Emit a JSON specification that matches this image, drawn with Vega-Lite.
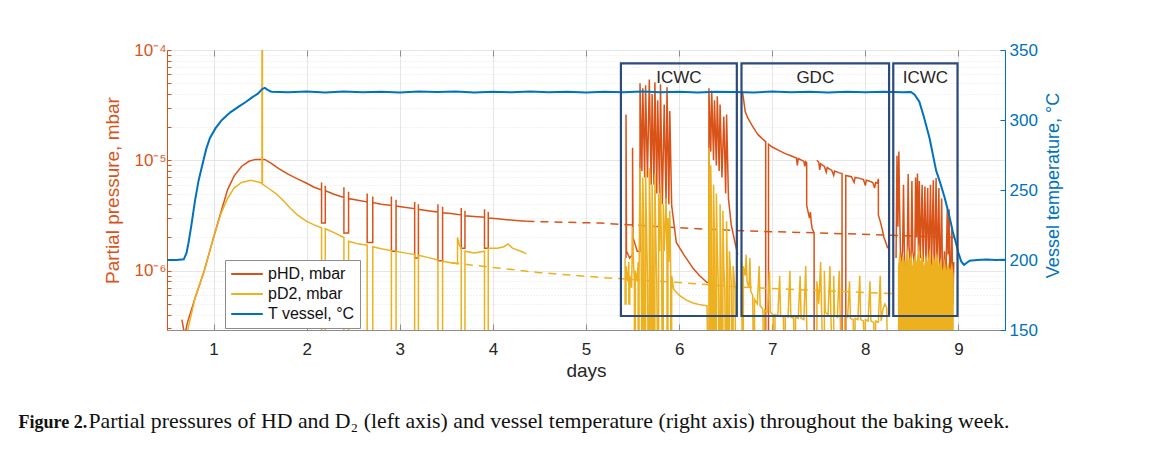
{
  "$schema": "https://vega.github.io/schema/vega-lite/v6.json",
  "width": 838,
  "height": 280,
  "autosize": {"type": "none"},
  "padding": {"left": 167, "top": 50, "right": 148, "bottom": 120},
  "background": "white",
  "config": {
    "font": "Liberation Sans",
    "view": {"stroke": "#8c8c8c", "strokeWidth": 1},
    "axis": {"labelFont": "Liberation Sans", "titleFont": "Liberation Sans", "titleFontWeight": "normal"}
  },
  "datasets": {
    "hd": [
      {"seg": 1, "day": 0.66, "p": 3.6e-7}, {"seg": 1, "day": 0.69, "p": 2.6e-7}, {"seg": 1, "day": 0.72, "p": 3.4e-7},
      {"seg": 1, "day": 0.80, "p": 5.6e-7}, {"seg": 1, "day": 0.90, "p": 1.0e-6}, {"seg": 1, "day": 1.00, "p": 2.0e-6},
      {"seg": 1, "day": 1.08, "p": 3.4e-6}, {"seg": 1, "day": 1.15, "p": 5.4e-6}, {"seg": 1, "day": 1.22, "p": 7.2e-6},
      {"seg": 1, "day": 1.30, "p": 8.8e-6}, {"seg": 1, "day": 1.38, "p": 9.8e-6}, {"seg": 1, "day": 1.45, "p": 1.02e-5},
      {"seg": 1, "day": 1.55, "p": 1.02e-5}, {"seg": 1, "day": 1.62, "p": 9.4e-6}, {"seg": 1, "day": 1.70, "p": 8.4e-6},
      {"seg": 1, "day": 1.80, "p": 7.5e-6}, {"seg": 1, "day": 1.90, "p": 6.8e-6}, {"seg": 1, "day": 2.00, "p": 6.2e-6},
      {"seg": 1, "day": 2.08, "p": 5.7e-6}, {"seg": 1, "day": 2.16, "p": 5.4e-6},
      {"seg": 1, "day": 2.16, "p": 6.3e-6}, {"seg": 1, "day": 2.16, "p": 2.7e-6}, {"seg": 1, "day": 2.20, "p": 2.7e-6}, {"seg": 1, "day": 2.20, "p": 5.9e-6}, {"seg": 1, "day": 2.20, "p": 5.3e-6},
      {"seg": 1, "day": 2.30, "p": 4.9e-6}, {"seg": 1, "day": 2.40, "p": 4.6e-6},
      {"seg": 1, "day": 2.40, "p": 5.7e-6}, {"seg": 1, "day": 2.40, "p": 2.2e-6}, {"seg": 1, "day": 2.45, "p": 2.2e-6}, {"seg": 1, "day": 2.45, "p": 5.2e-6}, {"seg": 1, "day": 2.45, "p": 4.5e-6},
      {"seg": 1, "day": 2.55, "p": 4.35e-6}, {"seg": 1, "day": 2.65, "p": 4.2e-6},
      {"seg": 1, "day": 2.65, "p": 5.0e-6}, {"seg": 1, "day": 2.65, "p": 1.8e-6}, {"seg": 1, "day": 2.71, "p": 1.8e-6}, {"seg": 1, "day": 2.71, "p": 4.7e-6}, {"seg": 1, "day": 2.71, "p": 4.15e-6},
      {"seg": 1, "day": 2.80, "p": 4.0e-6}, {"seg": 1, "day": 2.91, "p": 3.9e-6},
      {"seg": 1, "day": 2.91, "p": 4.7e-6}, {"seg": 1, "day": 2.91, "p": 1.5e-6}, {"seg": 1, "day": 2.96, "p": 1.5e-6}, {"seg": 1, "day": 2.96, "p": 4.4e-6}, {"seg": 1, "day": 2.96, "p": 3.85e-6},
      {"seg": 1, "day": 3.05, "p": 3.75e-6}, {"seg": 1, "day": 3.16, "p": 3.65e-6},
      {"seg": 1, "day": 3.16, "p": 4.2e-6}, {"seg": 1, "day": 3.16, "p": 1.3e-6}, {"seg": 1, "day": 3.20, "p": 1.3e-6}, {"seg": 1, "day": 3.20, "p": 4.0e-6}, {"seg": 1, "day": 3.20, "p": 3.6e-6},
      {"seg": 1, "day": 3.30, "p": 3.5e-6}, {"seg": 1, "day": 3.41, "p": 3.4e-6},
      {"seg": 1, "day": 3.41, "p": 4.0e-6}, {"seg": 1, "day": 3.41, "p": 1.23e-6}, {"seg": 1, "day": 3.46, "p": 1.23e-6}, {"seg": 1, "day": 3.46, "p": 3.8e-6}, {"seg": 1, "day": 3.46, "p": 3.35e-6},
      {"seg": 1, "day": 3.55, "p": 3.3e-6}, {"seg": 1, "day": 3.66, "p": 3.2e-6},
      {"seg": 1, "day": 3.66, "p": 3.7e-6}, {"seg": 1, "day": 3.66, "p": 1.6e-6}, {"seg": 1, "day": 3.70, "p": 1.6e-6}, {"seg": 1, "day": 3.70, "p": 3.5e-6}, {"seg": 1, "day": 3.70, "p": 3.15e-6},
      {"seg": 1, "day": 3.80, "p": 3.1e-6}, {"seg": 1, "day": 3.91, "p": 3.05e-6},
      {"seg": 1, "day": 3.91, "p": 3.6e-6}, {"seg": 1, "day": 3.91, "p": 1.6e-6}, {"seg": 1, "day": 3.95, "p": 1.6e-6}, {"seg": 1, "day": 3.95, "p": 3.4e-6}, {"seg": 1, "day": 3.95, "p": 3.0e-6},
      {"seg": 1, "day": 4.05, "p": 2.95e-6}, {"seg": 1, "day": 4.15, "p": 2.9e-6}, {"seg": 1, "day": 4.25, "p": 2.85e-6}, {"seg": 1, "day": 4.36, "p": 2.8e-6},

      {"seg": 2, "day": 5.43, "p": 1.3e-6}, {"seg": 2, "day": 5.43, "p": 2.6e-5}, {"seg": 2, "day": 5.435, "p": 1.5e-6}, {"seg": 2, "day": 5.47, "p": 1.3e-6},
      {"seg": 2, "day": 5.50, "p": 1.4e-6}, {"seg": 2, "day": 5.50, "p": 1.3e-5}, {"seg": 2, "day": 5.505, "p": 2.0e-6}, {"seg": 2, "day": 5.55, "p": 1.5e-6},
      {"seg": 2, "day": 5.58, "p": 1.5e-6}, {"seg": 2, "day": 5.58, "p": 5.0e-5}, {"seg": 2, "day": 5.60, "p": 8e-6}, {"seg": 2, "day": 5.61, "p": 4.5e-5},
      {"seg": 2, "day": 5.63, "p": 7e-6}, {"seg": 2, "day": 5.64, "p": 4.8e-5}, {"seg": 2, "day": 5.66, "p": 7e-6}, {"seg": 2, "day": 5.68, "p": 5.4e-5},
      {"seg": 2, "day": 5.70, "p": 6e-6}, {"seg": 2, "day": 5.71, "p": 4.0e-5}, {"seg": 2, "day": 5.73, "p": 6e-6}, {"seg": 2, "day": 5.74, "p": 5.1e-5},
      {"seg": 2, "day": 5.76, "p": 5e-6}, {"seg": 2, "day": 5.77, "p": 3.5e-5}, {"seg": 2, "day": 5.79, "p": 5e-6}, {"seg": 2, "day": 5.80, "p": 4.9e-5},
      {"seg": 2, "day": 5.82, "p": 4e-6}, {"seg": 2, "day": 5.84, "p": 3.2e-5}, {"seg": 2, "day": 5.86, "p": 4e-6}, {"seg": 2, "day": 5.87, "p": 4.6e-5},
      {"seg": 2, "day": 5.89, "p": 4e-6}, {"seg": 2, "day": 5.90, "p": 2.8e-5}, {"seg": 2, "day": 5.92, "p": 3.9e-6}, {"seg": 2, "day": 5.97, "p": 1.8e-6},
      {"seg": 2, "day": 6.05, "p": 1.4e-6}, {"seg": 2, "day": 6.15, "p": 1.05e-6}, {"seg": 2, "day": 6.22, "p": 9e-7}, {"seg": 2, "day": 6.30, "p": 7.8e-7},
      {"seg": 2, "day": 6.32, "p": 7.8e-7}, {"seg": 2, "day": 6.32, "p": 4.5e-5}, {"seg": 2, "day": 6.34, "p": 1.2e-5}, {"seg": 2, "day": 6.35, "p": 4.3e-5},
      {"seg": 2, "day": 6.37, "p": 1.0e-5}, {"seg": 2, "day": 6.38, "p": 3.5e-5}, {"seg": 2, "day": 6.40, "p": 9e-6}, {"seg": 2, "day": 6.41, "p": 3.8e-5},
      {"seg": 2, "day": 6.43, "p": 8e-6}, {"seg": 2, "day": 6.44, "p": 3.2e-5}, {"seg": 2, "day": 6.46, "p": 7e-6}, {"seg": 2, "day": 6.48, "p": 2.5e-5},
      {"seg": 2, "day": 6.50, "p": 5e-6}, {"seg": 2, "day": 6.51, "p": 2.6e-5}, {"seg": 2, "day": 6.53, "p": 4.5e-6}, {"seg": 2, "day": 6.56, "p": 2.6e-6},
      {"seg": 2, "day": 6.60, "p": 1.8e-6}, {"seg": 2, "day": 6.63, "p": 1.4e-6},

      {"seg": 3, "day": 6.68, "p": 4.2e-5}, {"seg": 3, "day": 6.70, "p": 3.2e-5}, {"seg": 3, "day": 6.71, "p": 2.75e-5}, {"seg": 3, "day": 6.74, "p": 2.4e-5},
      {"seg": 3, "day": 6.78, "p": 2.1e-5}, {"seg": 3, "day": 6.82, "p": 1.85e-5}, {"seg": 3, "day": 6.85, "p": 1.7e-5}, {"seg": 3, "day": 6.89, "p": 1.58e-5},
      {"seg": 3, "day": 6.93, "p": 1.48e-5}, {"seg": 3, "day": 6.93, "p": 1e-7}, {"seg": 3, "day": 6.96, "p": 1e-7}, {"seg": 3, "day": 6.96, "p": 1.4e-5},
      {"seg": 3, "day": 7.00, "p": 1.32e-5}, {"seg": 3, "day": 7.07, "p": 1.23e-5}, {"seg": 3, "day": 7.14, "p": 1.15e-5}, {"seg": 3, "day": 7.20, "p": 1.1e-5},
      {"seg": 3, "day": 7.26, "p": 1.05e-5}, {"seg": 3, "day": 7.27, "p": 9e-6}, {"seg": 3, "day": 7.28, "p": 1.04e-5}, {"seg": 3, "day": 7.32, "p": 1.0e-5},
      {"seg": 3, "day": 7.34, "p": 9.8e-6}, {"seg": 3, "day": 7.35, "p": 8.8e-6}, {"seg": 3, "day": 7.36, "p": 9.7e-6}, {"seg": 3, "day": 7.37, "p": 9.5e-6},
      {"seg": 3, "day": 7.37, "p": 3.9e-6}, {"seg": 3, "day": 7.40, "p": 3.0e-6}, {"seg": 3, "day": 7.41, "p": 3.4e-6}, {"seg": 3, "day": 7.42, "p": 2.7e-6},
      {"seg": 3, "day": 7.43, "p": 2.4e-6}, {"seg": 3, "day": 7.45, "p": 2.2e-6}, {"seg": 3, "day": 7.45, "p": 1e-7},

      {"seg": 4, "day": 7.48, "p": 1.0e-5}, {"seg": 4, "day": 7.50, "p": 9.6e-6}, {"seg": 4, "day": 7.51, "p": 8.2e-6}, {"seg": 4, "day": 7.52, "p": 9.3e-6},
      {"seg": 4, "day": 7.56, "p": 8.8e-6}, {"seg": 4, "day": 7.58, "p": 7.8e-6}, {"seg": 4, "day": 7.59, "p": 8.6e-6}, {"seg": 4, "day": 7.64, "p": 8.1e-6},
      {"seg": 4, "day": 7.66, "p": 7.3e-6}, {"seg": 4, "day": 7.67, "p": 8.0e-6}, {"seg": 4, "day": 7.72, "p": 7.7e-6}, {"seg": 4, "day": 7.75, "p": 7.6e-6},
      {"seg": 4, "day": 7.75, "p": 1e-7}, {"seg": 4, "day": 7.79, "p": 1e-7}, {"seg": 4, "day": 7.79, "p": 7.3e-6}, {"seg": 4, "day": 7.85, "p": 7.1e-6},
      {"seg": 4, "day": 7.88, "p": 6.3e-6}, {"seg": 4, "day": 7.89, "p": 7.0e-6}, {"seg": 4, "day": 7.93, "p": 6.9e-6}, {"seg": 4, "day": 7.98, "p": 6.7e-6},
      {"seg": 4, "day": 8.00, "p": 5.9e-6}, {"seg": 4, "day": 8.01, "p": 6.6e-6}, {"seg": 4, "day": 8.04, "p": 6.5e-6}, {"seg": 4, "day": 8.08, "p": 6.3e-6},
      {"seg": 4, "day": 8.10, "p": 5.6e-6}, {"seg": 4, "day": 8.11, "p": 6.3e-6}, {"seg": 4, "day": 8.13, "p": 6.2e-6}, {"seg": 4, "day": 8.14, "p": 6.8e-6},
      {"seg": 4, "day": 8.14, "p": 3.2e-6}, {"seg": 4, "day": 8.16, "p": 2.8e-6}, {"seg": 4, "day": 8.18, "p": 2.4e-6}, {"seg": 4, "day": 8.20, "p": 2.0e-6},
      {"seg": 4, "day": 8.22, "p": 1.8e-6}, {"seg": 4, "day": 8.24, "p": 1.6e-6},

      {"seg": 5, "day": 8.33, "p": 1.3e-6}, {"seg": 5, "day": 8.34, "p": 1.1e-5}, {"seg": 5, "day": 8.35, "p": 2.5e-6}, {"seg": 5, "day": 8.36, "p": 1.2e-5},
      {"seg": 5, "day": 8.37, "p": 3e-6}, {"seg": 5, "day": 8.38, "p": 1.1e-6}, {"seg": 5, "day": 8.40, "p": 1.5e-6}, {"seg": 5, "day": 8.41, "p": 6e-6},
      {"seg": 5, "day": 8.42, "p": 1.4e-6}, {"seg": 5, "day": 8.43, "p": 9e-7}, {"seg": 5, "day": 8.45, "p": 1.3e-6}, {"seg": 5, "day": 8.46, "p": 7.5e-6},
      {"seg": 5, "day": 8.47, "p": 1.6e-6}, {"seg": 5, "day": 8.49, "p": 1.0e-6}, {"seg": 5, "day": 8.50, "p": 6.5e-6}, {"seg": 5, "day": 8.51, "p": 1.5e-6},
      {"seg": 5, "day": 8.53, "p": 1.1e-6}, {"seg": 5, "day": 8.54, "p": 7e-6}, {"seg": 5, "day": 8.55, "p": 2e-6}, {"seg": 5, "day": 8.56, "p": 7.6e-6},
      {"seg": 5, "day": 8.57, "p": 1.5e-6}, {"seg": 5, "day": 8.58, "p": 6.5e-6}, {"seg": 5, "day": 8.59, "p": 1.3e-6}, {"seg": 5, "day": 8.61, "p": 6e-6},
      {"seg": 5, "day": 8.62, "p": 1.2e-6}, {"seg": 5, "day": 8.64, "p": 5.8e-6}, {"seg": 5, "day": 8.65, "p": 1.1e-6}, {"seg": 5, "day": 8.67, "p": 5.6e-6},
      {"seg": 5, "day": 8.68, "p": 9e-7}, {"seg": 5, "day": 8.70, "p": 6e-6}, {"seg": 5, "day": 8.71, "p": 1.0e-6}, {"seg": 5, "day": 8.73, "p": 6.6e-6},
      {"seg": 5, "day": 8.74, "p": 8e-7}, {"seg": 5, "day": 8.76, "p": 6.9e-6}, {"seg": 5, "day": 8.77, "p": 9e-7}, {"seg": 5, "day": 8.79, "p": 5.6e-6},
      {"seg": 5, "day": 8.80, "p": 7e-7}, {"seg": 5, "day": 8.82, "p": 4.5e-6}, {"seg": 5, "day": 8.83, "p": 6e-7}, {"seg": 5, "day": 8.85, "p": 1.5e-6},
      {"seg": 5, "day": 8.86, "p": 5e-7}, {"seg": 5, "day": 8.88, "p": 3.6e-6}, {"seg": 5, "day": 8.89, "p": 1.4e-6}, {"seg": 5, "day": 8.90, "p": 3.6e-6},
      {"seg": 5, "day": 8.91, "p": 6e-7}, {"seg": 5, "day": 8.93, "p": 2.5e-6}, {"seg": 5, "day": 8.94, "p": 5e-7}, {"seg": 5, "day": 8.95, "p": 1.2e-6}
    ],
    "hdx": [
      {"day": 4.36, "p": 2.8e-6}, {"day": 5.15, "p": 2.7e-6}, {"day": 6.0, "p": 2.45e-6}, {"day": 6.66, "p": 2.3e-6},
      {"day": 7.5, "p": 2.2e-6}, {"day": 8.24, "p": 2.1e-6}, {"day": 8.95, "p": 2.0e-6}
    ],
    "d2": [
      {"seg": 1, "day": 0.71, "p": 2.6e-7}, {"seg": 1, "day": 0.80, "p": 5.6e-7}, {"seg": 1, "day": 0.90, "p": 1.0e-6}, {"seg": 1, "day": 1.00, "p": 2.0e-6},
      {"seg": 1, "day": 1.08, "p": 3.3e-6}, {"seg": 1, "day": 1.15, "p": 4.5e-6}, {"seg": 1, "day": 1.22, "p": 5.6e-6}, {"seg": 1, "day": 1.30, "p": 6.3e-6},
      {"seg": 1, "day": 1.40, "p": 6.6e-6}, {"seg": 1, "day": 1.47, "p": 6.4e-6}, {"seg": 1, "day": 1.52, "p": 6.2e-6},
      {"seg": 1, "day": 1.52, "p": 2e-4}, {"seg": 1, "day": 1.525, "p": 2e-4}, {"seg": 1, "day": 1.525, "p": 6.1e-6},
      {"seg": 1, "day": 1.60, "p": 5.5e-6}, {"seg": 1, "day": 1.67, "p": 5.0e-6}, {"seg": 1, "day": 1.74, "p": 4.4e-6}, {"seg": 1, "day": 1.81, "p": 3.8e-6},
      {"seg": 1, "day": 1.90, "p": 3.2e-6}, {"seg": 1, "day": 2.00, "p": 2.8e-6}, {"seg": 1, "day": 2.08, "p": 2.6e-6}, {"seg": 1, "day": 2.16, "p": 2.45e-6},
      {"seg": 1, "day": 2.16, "p": 1e-7}, {"seg": 1, "day": 2.20, "p": 1e-7}, {"seg": 1, "day": 2.20, "p": 2.4e-6},
      {"seg": 1, "day": 2.30, "p": 2.2e-6}, {"seg": 1, "day": 2.40, "p": 2.0e-6},
      {"seg": 1, "day": 2.40, "p": 1e-7}, {"seg": 1, "day": 2.45, "p": 1e-7}, {"seg": 1, "day": 2.45, "p": 1.85e-6},
      {"seg": 1, "day": 2.55, "p": 1.75e-6}, {"seg": 1, "day": 2.65, "p": 1.7e-6},
      {"seg": 1, "day": 2.65, "p": 1e-7}, {"seg": 1, "day": 2.71, "p": 1e-7}, {"seg": 1, "day": 2.71, "p": 1.65e-6},
      {"seg": 1, "day": 2.80, "p": 1.58e-6}, {"seg": 1, "day": 2.91, "p": 1.52e-6},
      {"seg": 1, "day": 2.91, "p": 1e-7}, {"seg": 1, "day": 2.96, "p": 1e-7}, {"seg": 1, "day": 2.96, "p": 1.5e-6},
      {"seg": 1, "day": 3.05, "p": 1.45e-6}, {"seg": 1, "day": 3.16, "p": 1.4e-6},
      {"seg": 1, "day": 3.16, "p": 1e-7}, {"seg": 1, "day": 3.20, "p": 1e-7}, {"seg": 1, "day": 3.20, "p": 1.38e-6},
      {"seg": 1, "day": 3.30, "p": 1.32e-6}, {"seg": 1, "day": 3.41, "p": 1.25e-6},
      {"seg": 1, "day": 3.41, "p": 1e-7}, {"seg": 1, "day": 3.46, "p": 1e-7}, {"seg": 1, "day": 3.46, "p": 1.22e-6},
      {"seg": 1, "day": 3.55, "p": 1.18e-6}, {"seg": 1, "day": 3.62, "p": 1.16e-6}, {"seg": 1, "day": 3.62, "p": 2.0e-6}, {"seg": 1, "day": 3.64, "p": 1.7e-6},
      {"seg": 1, "day": 3.66, "p": 1.6e-6}, {"seg": 1, "day": 3.66, "p": 1e-7}, {"seg": 1, "day": 3.70, "p": 1e-7}, {"seg": 1, "day": 3.70, "p": 1.5e-6},
      {"seg": 1, "day": 3.80, "p": 1.45e-6}, {"seg": 1, "day": 3.91, "p": 1.5e-6},
      {"seg": 1, "day": 3.91, "p": 1e-7}, {"seg": 1, "day": 3.95, "p": 1e-7}, {"seg": 1, "day": 3.95, "p": 1.6e-6},
      {"seg": 1, "day": 4.05, "p": 1.6e-6}, {"seg": 1, "day": 4.12, "p": 1.65e-6}, {"seg": 1, "day": 4.16, "p": 1.75e-6}, {"seg": 1, "day": 4.21, "p": 1.6e-6},
      {"seg": 1, "day": 4.30, "p": 1.5e-6}, {"seg": 1, "day": 4.36, "p": 1.42e-6},

      {"seg": 2, "day": 5.42, "p": 1.3e-6}, {"seg": 2, "day": 5.42, "p": 5e-7}, {"seg": 2, "day": 5.43, "p": 5e-7}, {"seg": 2, "day": 5.43, "p": 1.1e-6},
      {"seg": 2, "day": 5.45, "p": 8e-7}, {"seg": 2, "day": 5.46, "p": 1.2e-6}, {"seg": 2, "day": 5.46, "p": 5e-7}, {"seg": 2, "day": 5.47, "p": 5e-7},
      {"seg": 2, "day": 5.47, "p": 9e-7}, {"seg": 2, "day": 5.49, "p": 7e-7}, {"seg": 2, "day": 5.50, "p": 2.5e-6}, {"seg": 2, "day": 5.51, "p": 1.2e-6},
      {"seg": 2, "day": 5.52, "p": 8e-7}, {"seg": 2, "day": 5.52, "p": 1e-7}, {"seg": 2, "day": 5.53, "p": 1e-7}, {"seg": 2, "day": 5.53, "p": 1.0e-6},
      {"seg": 2, "day": 5.55, "p": 8e-7}, {"seg": 2, "day": 5.56, "p": 1.2e-6}, {"seg": 2, "day": 5.56, "p": 1e-7}, {"seg": 2, "day": 5.57, "p": 1e-7},
      {"seg": 2, "day": 5.57, "p": 1.0e-6}, {"seg": 2, "day": 5.58, "p": 8.5e-6}, {"seg": 2, "day": 5.59, "p": 3e-6}, {"seg": 2, "day": 5.60, "p": 1e-7},
      {"seg": 2, "day": 5.61, "p": 1e-7}, {"seg": 2, "day": 5.61, "p": 7e-6}, {"seg": 2, "day": 5.62, "p": 2.5e-6}, {"seg": 2, "day": 5.63, "p": 1e-7},
      {"seg": 2, "day": 5.64, "p": 1e-7}, {"seg": 2, "day": 5.64, "p": 8e-6}, {"seg": 2, "day": 5.65, "p": 2.5e-6}, {"seg": 2, "day": 5.66, "p": 9e-7},
      {"seg": 2, "day": 5.67, "p": 1e-7}, {"seg": 2, "day": 5.68, "p": 1e-7}, {"seg": 2, "day": 5.68, "p": 8.5e-6}, {"seg": 2, "day": 5.69, "p": 3e-6},
      {"seg": 2, "day": 5.70, "p": 1e-7}, {"seg": 2, "day": 5.71, "p": 1e-7}, {"seg": 2, "day": 5.71, "p": 6e-6}, {"seg": 2, "day": 5.72, "p": 2e-6},
      {"seg": 2, "day": 5.73, "p": 1e-7}, {"seg": 2, "day": 5.74, "p": 1e-7}, {"seg": 2, "day": 5.74, "p": 7.5e-6}, {"seg": 2, "day": 5.75, "p": 2e-6},
      {"seg": 2, "day": 5.76, "p": 8e-7}, {"seg": 2, "day": 5.77, "p": 1e-7}, {"seg": 2, "day": 5.78, "p": 1e-7}, {"seg": 2, "day": 5.78, "p": 5e-6},
      {"seg": 2, "day": 5.79, "p": 1.5e-6}, {"seg": 2, "day": 5.80, "p": 6e-6}, {"seg": 2, "day": 5.81, "p": 1.8e-6}, {"seg": 2, "day": 5.82, "p": 1e-7},
      {"seg": 2, "day": 5.83, "p": 1e-7}, {"seg": 2, "day": 5.83, "p": 4e-6}, {"seg": 2, "day": 5.84, "p": 1.5e-6}, {"seg": 2, "day": 5.86, "p": 4.5e-6},
      {"seg": 2, "day": 5.87, "p": 1.3e-6}, {"seg": 2, "day": 5.87, "p": 1e-7}, {"seg": 2, "day": 5.88, "p": 1e-7}, {"seg": 2, "day": 5.88, "p": 3e-6},
      {"seg": 2, "day": 5.89, "p": 1.2e-6}, {"seg": 2, "day": 5.90, "p": 3.5e-6}, {"seg": 2, "day": 5.91, "p": 1e-6}, {"seg": 2, "day": 5.91, "p": 1e-7},
      {"seg": 2, "day": 5.92, "p": 1e-7}, {"seg": 2, "day": 5.92, "p": 9e-7}, {"seg": 2, "day": 5.94, "p": 6.8e-7}, {"seg": 2, "day": 6.01, "p": 5.9e-7},
      {"seg": 2, "day": 6.08, "p": 5.4e-7}, {"seg": 2, "day": 6.15, "p": 5.1e-7}, {"seg": 2, "day": 6.23, "p": 4.9e-7}, {"seg": 2, "day": 6.30, "p": 4.8e-7},
      {"seg": 2, "day": 6.31, "p": 1e-7}, {"seg": 2, "day": 6.32, "p": 1e-7}, {"seg": 2, "day": 6.32, "p": 1.3e-5}, {"seg": 2, "day": 6.33, "p": 3e-6},
      {"seg": 2, "day": 6.33, "p": 1e-7}, {"seg": 2, "day": 6.34, "p": 1e-7}, {"seg": 2, "day": 6.34, "p": 9e-6}, {"seg": 2, "day": 6.35, "p": 2.5e-6},
      {"seg": 2, "day": 6.36, "p": 1e-7}, {"seg": 2, "day": 6.37, "p": 1e-7}, {"seg": 2, "day": 6.37, "p": 6e-6}, {"seg": 2, "day": 6.38, "p": 2e-6},
      {"seg": 2, "day": 6.39, "p": 1e-7}, {"seg": 2, "day": 6.40, "p": 1e-7}, {"seg": 2, "day": 6.40, "p": 5e-6}, {"seg": 2, "day": 6.41, "p": 1.6e-6},
      {"seg": 2, "day": 6.42, "p": 8e-7}, {"seg": 2, "day": 6.43, "p": 1e-7}, {"seg": 2, "day": 6.44, "p": 1e-7}, {"seg": 2, "day": 6.44, "p": 4e-6},
      {"seg": 2, "day": 6.45, "p": 1.3e-6}, {"seg": 2, "day": 6.46, "p": 1e-7}, {"seg": 2, "day": 6.47, "p": 1e-7}, {"seg": 2, "day": 6.47, "p": 3.5e-6},
      {"seg": 2, "day": 6.48, "p": 1.1e-6}, {"seg": 2, "day": 6.49, "p": 7e-7}, {"seg": 2, "day": 6.50, "p": 1e-7}, {"seg": 2, "day": 6.51, "p": 1e-7},
      {"seg": 2, "day": 6.51, "p": 2.8e-6}, {"seg": 2, "day": 6.52, "p": 9e-7}, {"seg": 2, "day": 6.53, "p": 1e-7}, {"seg": 2, "day": 6.54, "p": 1e-7},
      {"seg": 2, "day": 6.54, "p": 1.5e-6}, {"seg": 2, "day": 6.56, "p": 8e-7}, {"seg": 2, "day": 6.57, "p": 1e-7}, {"seg": 2, "day": 6.58, "p": 1e-7},
      {"seg": 2, "day": 6.58, "p": 1.1e-6}, {"seg": 2, "day": 6.60, "p": 7e-7}, {"seg": 2, "day": 6.61, "p": 1e-7},

      {"seg": 3, "day": 6.67, "p": 1.2e-6}, {"seg": 3, "day": 6.68, "p": 1e-7}, {"seg": 3, "day": 6.69, "p": 1e-7}, {"seg": 3, "day": 6.69, "p": 1.1e-6},
      {"seg": 3, "day": 6.71, "p": 9e-7}, {"seg": 3, "day": 6.72, "p": 1.4e-6}, {"seg": 3, "day": 6.73, "p": 8e-7}, {"seg": 3, "day": 6.75, "p": 7e-7},
      {"seg": 3, "day": 6.76, "p": 1.3e-6}, {"seg": 3, "day": 6.77, "p": 6.5e-7}, {"seg": 3, "day": 6.79, "p": 6e-7}, {"seg": 3, "day": 6.80, "p": 1e-7},
      {"seg": 3, "day": 6.81, "p": 1e-7}, {"seg": 3, "day": 6.81, "p": 5.5e-7}, {"seg": 3, "day": 6.84, "p": 5e-7}, {"seg": 3, "day": 6.86, "p": 1.1e-6},
      {"seg": 3, "day": 6.87, "p": 4.8e-7}, {"seg": 3, "day": 6.90, "p": 4.5e-7}, {"seg": 3, "day": 6.91, "p": 1e-7}, {"seg": 3, "day": 6.92, "p": 1e-7},
      {"seg": 3, "day": 6.92, "p": 4.4e-7}, {"seg": 3, "day": 6.95, "p": 4.2e-7}, {"seg": 3, "day": 6.97, "p": 1.0e-6}, {"seg": 3, "day": 6.98, "p": 4.2e-7},
      {"seg": 3, "day": 7.01, "p": 4e-7}, {"seg": 3, "day": 7.02, "p": 1e-7}, {"seg": 3, "day": 7.03, "p": 1e-7}, {"seg": 3, "day": 7.03, "p": 4e-7},
      {"seg": 3, "day": 7.06, "p": 3.9e-7}, {"seg": 3, "day": 7.08, "p": 9e-7}, {"seg": 3, "day": 7.09, "p": 3.9e-7}, {"seg": 3, "day": 7.12, "p": 3.8e-7},
      {"seg": 3, "day": 7.13, "p": 1e-7}, {"seg": 3, "day": 7.14, "p": 1e-7}, {"seg": 3, "day": 7.14, "p": 3.9e-7}, {"seg": 3, "day": 7.17, "p": 3.8e-7},
      {"seg": 3, "day": 7.19, "p": 1.0e-6}, {"seg": 3, "day": 7.20, "p": 3.8e-7}, {"seg": 3, "day": 7.23, "p": 3.7e-7}, {"seg": 3, "day": 7.24, "p": 1e-7},
      {"seg": 3, "day": 7.25, "p": 1e-7}, {"seg": 3, "day": 7.25, "p": 3.8e-7}, {"seg": 3, "day": 7.28, "p": 3.7e-7}, {"seg": 3, "day": 7.30, "p": 9e-7},
      {"seg": 3, "day": 7.31, "p": 3.7e-7}, {"seg": 3, "day": 7.34, "p": 3.6e-7}, {"seg": 3, "day": 7.36, "p": 1.1e-6}, {"seg": 3, "day": 7.37, "p": 3.5e-7},
      {"seg": 3, "day": 7.38, "p": 1e-7}, {"seg": 3, "day": 7.48, "p": 1e-7}, {"seg": 3, "day": 7.48, "p": 8e-7}, {"seg": 3, "day": 7.50, "p": 5e-7},
      {"seg": 3, "day": 7.52, "p": 1.2e-6}, {"seg": 3, "day": 7.53, "p": 4.5e-7}, {"seg": 3, "day": 7.55, "p": 1e-7}, {"seg": 3, "day": 7.56, "p": 1e-7},
      {"seg": 3, "day": 7.56, "p": 1.0e-6}, {"seg": 3, "day": 7.57, "p": 4.2e-7}, {"seg": 3, "day": 7.60, "p": 4e-7}, {"seg": 3, "day": 7.62, "p": 1.1e-6},
      {"seg": 3, "day": 7.63, "p": 4e-7}, {"seg": 3, "day": 7.65, "p": 1e-7}, {"seg": 3, "day": 7.66, "p": 1e-7}, {"seg": 3, "day": 7.66, "p": 9e-7},
      {"seg": 3, "day": 7.67, "p": 3.9e-7}, {"seg": 3, "day": 7.70, "p": 3.8e-7}, {"seg": 3, "day": 7.72, "p": 1.0e-6}, {"seg": 3, "day": 7.73, "p": 3.8e-7},
      {"seg": 3, "day": 7.75, "p": 1e-7}, {"seg": 3, "day": 7.78, "p": 1e-7}, {"seg": 3, "day": 7.78, "p": 3.9e-7}, {"seg": 3, "day": 7.81, "p": 3.8e-7},
      {"seg": 3, "day": 7.83, "p": 8e-7}, {"seg": 3, "day": 7.84, "p": 3.7e-7}, {"seg": 3, "day": 7.87, "p": 3.6e-7}, {"seg": 3, "day": 7.88, "p": 1e-7},
      {"seg": 3, "day": 7.89, "p": 1e-7}, {"seg": 3, "day": 7.89, "p": 3.7e-7}, {"seg": 3, "day": 7.92, "p": 3.6e-7}, {"seg": 3, "day": 7.94, "p": 9e-7},
      {"seg": 3, "day": 7.95, "p": 3.6e-7}, {"seg": 3, "day": 7.98, "p": 3.5e-7}, {"seg": 3, "day": 7.99, "p": 1e-7}, {"seg": 3, "day": 8.00, "p": 1e-7},
      {"seg": 3, "day": 8.00, "p": 3.6e-7}, {"seg": 3, "day": 8.03, "p": 3.5e-7}, {"seg": 3, "day": 8.05, "p": 8e-7}, {"seg": 3, "day": 8.06, "p": 3.5e-7},
      {"seg": 3, "day": 8.09, "p": 3.4e-7}, {"seg": 3, "day": 8.10, "p": 1e-7}, {"seg": 3, "day": 8.11, "p": 1e-7}, {"seg": 3, "day": 8.11, "p": 3.5e-7},
      {"seg": 3, "day": 8.14, "p": 3.4e-7}, {"seg": 3, "day": 8.16, "p": 9e-7}, {"seg": 3, "day": 8.17, "p": 3.5e-7}, {"seg": 3, "day": 8.19, "p": 4.5e-7},
      {"seg": 3, "day": 8.21, "p": 5e-7}, {"seg": 3, "day": 8.23, "p": 4.6e-7}, {"seg": 3, "day": 8.24, "p": 1e-7}
    ],
    "d2x": [
      {"day": 3.55, "p": 1.18e-6}, {"day": 4.0, "p": 1.07e-6}, {"day": 4.5, "p": 9.6e-7}, {"day": 5.15, "p": 8.7e-7},
      {"day": 6.0, "p": 7.8e-7}, {"day": 6.66, "p": 7.1e-7}, {"day": 7.5, "p": 6.6e-7}, {"day": 8.3, "p": 6.2e-7}
    ],
    "d2fill": [
      {"day": 8.35, "p": 1.1e-6}, {"day": 8.37, "p": 1.5e-6}, {"day": 8.39, "p": 1.2e-6}, {"day": 8.41, "p": 1.4e-6},
      {"day": 8.43, "p": 1.1e-6}, {"day": 8.45, "p": 1.7e-6}, {"day": 8.47, "p": 1.2e-6}, {"day": 8.49, "p": 1.5e-6},
      {"day": 8.51, "p": 1.1e-6}, {"day": 8.53, "p": 1.4e-6}, {"day": 8.55, "p": 1.2e-6}, {"day": 8.57, "p": 1.8e-6},
      {"day": 8.59, "p": 1.2e-6}, {"day": 8.61, "p": 1.5e-6}, {"day": 8.63, "p": 1.1e-6}, {"day": 8.65, "p": 1.4e-6},
      {"day": 8.67, "p": 1.2e-6}, {"day": 8.69, "p": 1.6e-6}, {"day": 8.71, "p": 1.1e-6}, {"day": 8.73, "p": 1.4e-6},
      {"day": 8.75, "p": 1.2e-6}, {"day": 8.77, "p": 1.5e-6}, {"day": 8.79, "p": 1.1e-6}, {"day": 8.81, "p": 1.3e-6},
      {"day": 8.83, "p": 1.0e-6}, {"day": 8.85, "p": 1.3e-6}, {"day": 8.87, "p": 1.0e-6}, {"day": 8.89, "p": 1.2e-6},
      {"day": 8.91, "p": 1.0e-6}, {"day": 8.93, "p": 1.2e-6}, {"day": 8.95, "p": 9e-7}
    ],
    "temp": [
      {"day": 0.50, "t": 200}, {"day": 0.60, "t": 200}, {"day": 0.68, "t": 200.5}, {"day": 0.71, "t": 205},
      {"day": 0.73, "t": 212}, {"day": 0.76, "t": 224}, {"day": 0.80, "t": 242}, {"day": 0.84, "t": 257},
      {"day": 0.88, "t": 268}, {"day": 0.92, "t": 279}, {"day": 0.96, "t": 287}, {"day": 1.02, "t": 294},
      {"day": 1.09, "t": 300}, {"day": 1.18, "t": 305.5}, {"day": 1.27, "t": 309.5}, {"day": 1.35, "t": 313},
      {"day": 1.41, "t": 316}, {"day": 1.48, "t": 319}, {"day": 1.52, "t": 322}, {"day": 1.55, "t": 323},
      {"day": 1.58, "t": 321.5}, {"day": 1.62, "t": 320.2}, {"day": 1.8, "t": 319.8}, {"day": 2.0, "t": 320.3},
      {"day": 2.2, "t": 319.7}, {"day": 2.4, "t": 320.4}, {"day": 2.6, "t": 319.9}, {"day": 2.8, "t": 320.2},
      {"day": 3.0, "t": 319.6}, {"day": 3.2, "t": 320.3}, {"day": 3.4, "t": 320.0}, {"day": 3.6, "t": 320.4},
      {"day": 3.8, "t": 319.7}, {"day": 4.0, "t": 320.1}, {"day": 4.2, "t": 319.8}, {"day": 4.4, "t": 320.3},
      {"day": 4.6, "t": 319.9}, {"day": 4.8, "t": 320.2}, {"day": 5.0, "t": 319.7}, {"day": 5.2, "t": 320.1},
      {"day": 5.4, "t": 319.9}, {"day": 5.6, "t": 320.3}, {"day": 5.8, "t": 319.8}, {"day": 6.0, "t": 320.2},
      {"day": 6.2, "t": 319.6}, {"day": 6.4, "t": 320.2}, {"day": 6.6, "t": 320.0}, {"day": 6.8, "t": 319.7},
      {"day": 7.0, "t": 320.3}, {"day": 7.2, "t": 319.9}, {"day": 7.4, "t": 320.1}, {"day": 7.6, "t": 319.7},
      {"day": 7.8, "t": 320.2}, {"day": 8.0, "t": 319.8}, {"day": 8.2, "t": 320.1}, {"day": 8.4, "t": 319.9},
      {"day": 8.49, "t": 320.0}, {"day": 8.53, "t": 318}, {"day": 8.58, "t": 313}, {"day": 8.63, "t": 302},
      {"day": 8.69, "t": 287}, {"day": 8.76, "t": 264}, {"day": 8.80, "t": 256}, {"day": 8.85, "t": 245},
      {"day": 8.90, "t": 232}, {"day": 8.94, "t": 220}, {"day": 8.97, "t": 213}, {"day": 9.00, "t": 205},
      {"day": 9.03, "t": 199}, {"day": 9.06, "t": 196.5}, {"day": 9.09, "t": 198}, {"day": 9.12, "t": 199.5},
      {"day": 9.2, "t": 200}, {"day": 9.3, "t": 200.3}, {"day": 9.4, "t": 200}, {"day": 9.5, "t": 200.2}
    ],
    "phases": [
      {"phase": "ICWC", "start": 5.375, "end": 6.62},
      {"phase": "GDC", "start": 6.67, "end": 8.255},
      {"phase": "ICWC", "start": 8.30, "end": 8.99}
    ]
  },
  "layer": [
    {
      "data": {"name": "hd"},
      "mark": {"type": "line", "clip": true, "strokeWidth": 1.5},
      "encoding": {
        "x": {"field": "day", "type": "quantitative", "scale": {"domain": [0.5, 9.5], "nice": false, "zero": false},
          "axis": {"orient": "bottom", "values": [1, 2, 3, 4, 5, 6, 7, 8, 9], "format": "d", "title": "days", "grid": true, "gridColor": "#e6e6e6",
            "tickSize": -6, "tickColor": "#8c8c8c", "domainColor": "#8c8c8c", "labelColor": "#262626", "labelFontSize": 17,
            "labelPadding": 17, "titleColor": "#262626", "titleFontSize": 19, "titlePadding": 4}},
        "y": {"field": "p", "type": "quantitative", "scale": {"type": "log", "domain": [2.9e-7, 1e-4], "nice": false},
          "axis": {"orient": "left",
            "values": [3e-7, 4e-7, 5e-7, 6e-7, 7e-7, 8e-7, 9e-7, 1e-6, 2e-6, 3e-6, 4e-6, 5e-6, 6e-6, 7e-6, 8e-6, 9e-6, 1e-5, 2e-5, 3e-5, 4e-5, 5e-5, 6e-5, 7e-5, 8e-5, 9e-5, 1e-4],
            "labelExpr": "datum.value == 1e-4 ? '10\u207b\u2074' : datum.value == 1e-5 ? '10\u207b\u2075' : datum.value == 1e-6 ? '10\u207b\u2076' : ''",
            "title": "Partial pressure, mbar", "titleColor": "#D95319", "titleFontSize": 19, "titlePadding": 11,
            "labelColor": "#D95319", "labelFontSize": 17, "labelPadding": 5,
            "domainColor": "#D95319", "tickColor": "#D95319", "tickSize": -4,
            "grid": true, "gridColor": "#e6e6e6",
            "gridDash": {"condition": {"test": "datum.value == 1e-4 || datum.value == 1e-5 || datum.value == 1e-6", "value": []}, "value": [1, 2]}}},
        "detail": {"field": "seg"},
        "order": {"value": null},
        "color": {"datum": "pHD, mbar", "type": "nominal",
          "scale": {"domain": ["pHD, mbar", "pD2, mbar", "T vessel, \u00b0C"], "range": ["#D95319", "#EDB120", "#0072BD"]},
          "legend": {"orient": "none", "legendX": 58, "legendY": 210, "title": null, "fillColor": "white", "strokeColor": "#8c8c8c",
            "padding": 5, "symbolType": "stroke", "symbolSize": 1000, "symbolStrokeWidth": 2, "labelFontSize": 16,
            "labelColor": "#111111", "labelFont": "Liberation Sans", "labelOffset": 4, "rowPadding": 2, "clipHeight": 18}}
      }
    },
    {
      "data": {"name": "hdx"},
      "mark": {"type": "line", "clip": true, "strokeWidth": 1.5, "strokeDash": [8, 6]},
      "encoding": {
        "x": {"field": "day", "type": "quantitative", "scale": {"domain": [0.5, 9.5], "nice": false, "zero": false}, "axis": null},
        "y": {"field": "p", "type": "quantitative", "scale": {"type": "log", "domain": [2.9e-7, 1e-4], "nice": false}, "axis": null},
        "color": {"datum": "pHD, mbar", "type": "nominal",
          "scale": {"domain": ["pHD, mbar", "pD2, mbar", "T vessel, \u00b0C"], "range": ["#D95319", "#EDB120", "#0072BD"]}, "legend": null}
      }
    },
    {
      "data": {"name": "d2"},
      "mark": {"type": "line", "clip": true, "strokeWidth": 1.5},
      "encoding": {
        "x": {"field": "day", "type": "quantitative", "scale": {"domain": [0.5, 9.5], "nice": false, "zero": false}, "axis": null},
        "y": {"field": "p", "type": "quantitative", "scale": {"type": "log", "domain": [2.9e-7, 1e-4], "nice": false}, "axis": null},
        "detail": {"field": "seg"},
        "order": {"value": null},
        "color": {"datum": "pD2, mbar", "type": "nominal",
          "scale": {"domain": ["pHD, mbar", "pD2, mbar", "T vessel, \u00b0C"], "range": ["#D95319", "#EDB120", "#0072BD"]}, "legend": null}
      }
    },
    {
      "data": {"name": "d2x"},
      "mark": {"type": "line", "clip": true, "strokeWidth": 1.5, "strokeDash": [8, 6]},
      "encoding": {
        "x": {"field": "day", "type": "quantitative", "scale": {"domain": [0.5, 9.5], "nice": false, "zero": false}, "axis": null},
        "y": {"field": "p", "type": "quantitative", "scale": {"type": "log", "domain": [2.9e-7, 1e-4], "nice": false}, "axis": null},
        "color": {"datum": "pD2, mbar", "type": "nominal",
          "scale": {"domain": ["pHD, mbar", "pD2, mbar", "T vessel, \u00b0C"], "range": ["#D95319", "#EDB120", "#0072BD"]}, "legend": null}
      }
    },
    {
      "data": {"name": "d2fill"},
      "mark": {"type": "area", "clip": true, "opacity": 1},
      "encoding": {
        "x": {"field": "day", "type": "quantitative", "scale": {"domain": [0.5, 9.5], "nice": false, "zero": false}, "axis": null},
        "y": {"field": "p", "type": "quantitative", "scale": {"type": "log", "domain": [2.9e-7, 1e-4], "nice": false}, "axis": null},
        "y2": {"datum": 1e-7},
        "color": {"datum": "pD2, mbar", "type": "nominal",
          "scale": {"domain": ["pHD, mbar", "pD2, mbar", "T vessel, \u00b0C"], "range": ["#D95319", "#EDB120", "#0072BD"]}, "legend": null}
      }
    },
    {
      "data": {"name": "temp"},
      "mark": {"type": "line", "clip": true, "strokeWidth": 2},
      "encoding": {
        "x": {"field": "day", "type": "quantitative", "scale": {"domain": [0.5, 9.5], "nice": false, "zero": false},
          "axis": {"orient": "top", "values": [1, 2, 3, 4, 5, 6, 7, 8, 9], "labels": false, "domain": false,
            "grid": false, "tickSize": -6, "tickColor": "#8c8c8c",
            "title": "Partial pressures of HD and D\u2082 (left axis) and vessel temperature (right axis) throughout the baking week.",
            "titleX": -79, "titleY": 377, "titleAlign": "left", "titleBaseline": "alphabetic", "titleAngle": 0,
            "titleFont": "Liberation Serif", "titleFontSize": 21.8, "titleFontWeight": "normal", "titleColor": "#111111"}},
        "y": {"field": "t", "type": "quantitative", "scale": {"domain": [150, 350], "nice": false, "zero": false},
          "axis": {"orient": "right", "values": [150, 200, 250, 300, 350], "title": "Vessel temperature, \u00b0C",
            "titleAngle": 270, "titleX": 48, "titleY": 135, "titleAlign": "center", "titleBaseline": "middle",
            "titleColor": "#0072BD", "titleFontSize": 18, "labelColor": "#0072BD", "labelFontSize": 17,
            "labelPadding": 9, "domainColor": "#0072BD", "tickColor": "#0072BD", "tickSize": -5, "grid": false}},
        "color": {"datum": "T vessel, \u00b0C", "type": "nominal",
          "scale": {"domain": ["pHD, mbar", "pD2, mbar", "T vessel, \u00b0C"], "range": ["#D95319", "#EDB120", "#0072BD"]}, "legend": null}
      }
    },
    {
      "data": {"name": "phases"},
      "mark": {"type": "rect", "fillOpacity": 0, "stroke": "#2B4B7C", "strokeWidth": 2.2},
      "encoding": {
        "x": {"field": "start", "type": "quantitative", "scale": {"domain": [0.5, 9.5], "nice": false, "zero": false},
          "axis": {"orient": "top", "labels": false, "ticks": false, "domain": false, "grid": false,
            "title": "Figure 2.", "titleX": -149, "titleY": 377, "titleAlign": "left", "titleBaseline": "alphabetic", "titleAngle": 0,
            "titleFont": "Liberation Serif", "titleFontSize": 18, "titleFontWeight": "bold", "titleColor": "#111111"}},
        "x2": {"field": "end"},
        "y": {"datum": 160, "type": "quantitative", "scale": {"domain": [150, 350], "nice": false, "zero": false}, "axis": null},
        "y2": {"datum": 340.5}
      }
    },
    {
      "data": {"name": "phases"},
      "transform": [{"calculate": "(datum.start + datum.end) / 2", "as": "mid"}],
      "mark": {"type": "text", "font": "Liberation Sans", "fontSize": 17, "color": "#262626", "baseline": "middle"},
      "encoding": {
        "x": {"field": "mid", "type": "quantitative", "scale": {"domain": [0.5, 9.5], "nice": false, "zero": false}, "axis": null},
        "y": {"datum": 330, "type": "quantitative", "scale": {"domain": [150, 350], "nice": false, "zero": false}, "axis": null},
        "text": {"field": "phase"}
      }
    }
  ],
  "resolve": {"scale": {"y": "independent"}, "axis": {"x": "independent", "y": "independent"}}
}
